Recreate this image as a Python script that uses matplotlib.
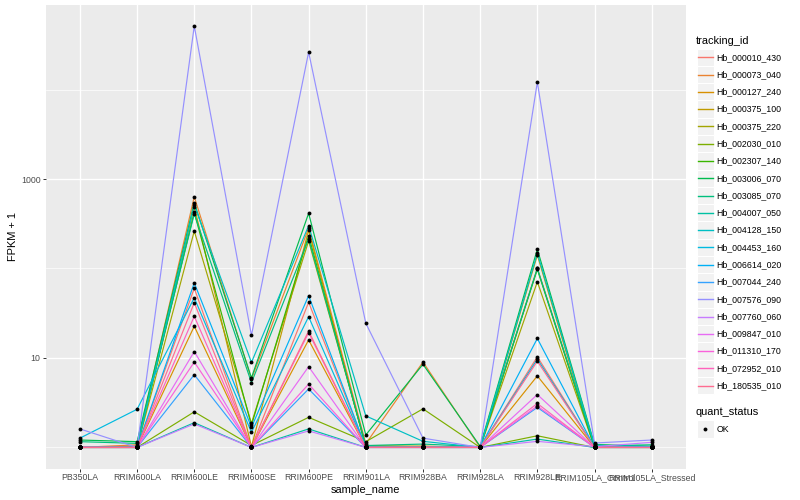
import numpy as np
import matplotlib
matplotlib.use("Agg")
import matplotlib.pyplot as plt
from matplotlib.patches import Rectangle
from matplotlib.lines import Line2D

plt.rcParams['font.family'] = ['Liberation Sans', 'DejaVu Sans']

# sample order on the x axis
samples = ["PB350LA", "RRIM600LA", "RRIM600LE", "RRIM600SE", "RRIM600PE",
           "RRIM901LA", "RRIM928BA", "RRIM928LA", "RRIM928LE",
           "RRIM105LA_Control", "RRIM105LA_Stressed"]

# FPKM + 1 per gene, one value per sample
hb_000010_430 = [1, 1, 60, 1, 41.9, 1, 1, 1, 10.3, 1, 1]
hb_000073_040 = [1, 1.07, 634, 5.8, 282, 1.1, 9.0, 1, 101, 1.02, 1]
hb_000127_240 = [1, 1, 22.6, 1, 15.9, 1, 1, 1, 6.3, 1, 1]
hb_000375_100 = [1, 1, 490, 1.02, 267, 1, 1.03, 1, 141, 1, 1]
hb_000375_220 = [1, 1, 262, 1.86, 203, 1.05, 1.03, 1, 71, 1, 1]
hb_002030_010 = [1, 1, 2.5, 1.05, 2.17, 1.16, 2.7, 1, 1.35, 1, 1]
hb_002307_140 = [1, 1.03, 425, 1.77, 233, 1.02, 1, 1, 98, 1, 1]
hb_003006_070 = [1.21, 1.16, 543, 6.0, 414, 1.38, 8.5, 1.03, 164, 1.08, 1.03]
hb_003085_070 = [1.16, 1.11, 409, 5.3, 214, 1.05, 1.09, 1.02, 100, 1.04, 1.07]
hb_004007_050 = [1, 1, 1.89, 1, 1.61, 1, 1, 1, 1.24, 1, 1]
hb_004128_150 = [1, 1, 512, 8.9, 301, 2.25, 1.17, 1, 148, 1.06, 1.02]
hb_004453_160 = [1.27, 2.67, 47, 1.48, 28.9, 1, 1, 1, 9.7, 1, 1]
hb_006614_020 = [1, 1, 69, 1.68, 49.7, 1, 1, 1, 16.5, 1, 1]
hb_007044_240 = [1, 1, 6.5, 1, 4.5, 1, 1, 1, 2.8, 1, 1]
hb_007576_090 = [1.61, 1, 51200, 17.9, 26200, 24.4, 1.27, 1, 12100, 1.12, 1.21]
hb_007760_060 = [1, 1, 1.83, 1, 1.53, 1, 1, 1, 1.17, 1.02, 1.14]
hb_009847_010 = [1, 1, 11.8, 1, 8.0, 1, 1, 1, 3.9, 1, 1]
hb_011310_170 = [1, 1, 9.0, 1, 5.1, 1, 1, 1, 2.9, 1, 1]
hb_072952_010 = [1, 1, 29.2, 1, 19.2, 1, 1, 1, 3.1, 1, 1]
hb_180535_010 = [1, 1, 41.5, 1, 20, 1, 1, 1, 9.2, 1, 1]

tracking_ids = ["Hb_000010_430", "Hb_000073_040", "Hb_000127_240", "Hb_000375_100",
                "Hb_000375_220", "Hb_002030_010", "Hb_002307_140", "Hb_003006_070",
                "Hb_003085_070", "Hb_004007_050", "Hb_004128_150", "Hb_004453_160",
                "Hb_006614_020", "Hb_007044_240", "Hb_007576_090", "Hb_007760_060",
                "Hb_009847_010", "Hb_011310_170", "Hb_072952_010", "Hb_180535_010"]
series = [hb_000010_430, hb_000073_040, hb_000127_240, hb_000375_100,
          hb_000375_220, hb_002030_010, hb_002307_140, hb_003006_070,
          hb_003085_070, hb_004007_050, hb_004128_150, hb_004453_160,
          hb_006614_020, hb_007044_240, hb_007576_090, hb_007760_060,
          hb_009847_010, hb_011310_170, hb_072952_010, hb_180535_010]

# ggplot hue palette, 20 levels
colors = ["#F8766D", "#EA8331", "#D89000", "#C09B00", "#A3A500", "#7CAE00",
          "#39B600", "#00BB4E", "#00BF7D", "#00C1A3", "#00BFC4", "#00BAE0",
          "#00B0F6", "#35A2FF", "#9590FF", "#C77CFF", "#E76BF3", "#FA62DB",
          "#FF62BC", "#FF6C91"]

W, H = 800, 500
PX = 0.72  # points per pixel at dpi 100

fig = plt.figure(figsize=(8, 5), dpi=100)
left, right, top, bottom = 45.6, 686.0, 5.0, 468.5
ax = fig.add_axes([left / W, 1 - bottom / H, (right - left) / W, (bottom - top) / H])
ax.set_facecolor("#EBEBEB")
for s in ax.spines.values():
    s.set_visible(False)

x = np.arange(len(samples))
for vals, c in zip(series, colors):
    ax.plot(x, vals, color=c, lw=0.85, zorder=3)
for vals in series:
    ax.plot(x, vals, 'o', color='black', ms=2.8, mec='none', zorder=4)

ax.set_yscale('log')
allv = np.concatenate([np.array(v, dtype=float) for v in series])
lo, hi = np.log10(allv.min()), np.log10(allv.max())
pad = 0.05 * (hi - lo)
ax.set_ylim(10 ** (lo - pad), 10 ** (hi + pad))
ax.set_xlim(-0.6, len(samples) - 0.4)

ax.set_yticks([10, 1000])
ax.set_yticklabels(["10", "1000"])
ax.set_yticks([1, 100, 10000], minor=True)
ax.yaxis.set_minor_formatter(matplotlib.ticker.NullFormatter())
ax.set_xticks(x)
ax.set_xticklabels(samples)

ax.grid(which='major', color='white', lw=1.0, zorder=0)
ax.grid(which='minor', axis='y', color='white', lw=0.5, zorder=0)
ax.set_axisbelow(True)
ax.tick_params(which='major', length=2.75 * PX, width=0.7, color='#333333',
               labelsize=8.8 * PX, labelcolor='#4D4D4D', pad=2.2 * PX)
ax.tick_params(which='minor', length=0)

ax.set_xlabel("sample_name", fontsize=11 * PX, color='black')
ax.xaxis.set_label_coords(0.5, -(490 - bottom) / (bottom - top))
ax.xaxis.label.set_va('center')
ax.set_ylabel("FPKM + 1", fontsize=11 * PX, color='black')
ax.yaxis.set_label_coords(-(left - 13) / (right - left), 0.5)
ax.yaxis.label.set_va('center')


def fx(px):
    return px / W


def fy(py):
    return 1 - py / H


# legend: tracking_id
fig.text(fx(696), fy(40.7), "tracking_id", fontsize=11 * PX, va='center', ha='left')
row0, step, key = 57.3, 17.28, 17.28
for i, (tid, c) in enumerate(zip(tracking_ids, colors)):
    cy = row0 + step * i
    fig.add_artist(Rectangle((fx(696.5), fy(cy + key / 2)), key / W, key / H,
                             facecolor="#F2F2F2", edgecolor="white", lw=0.8,
                             transform=fig.transFigure, zorder=1))
    fig.add_artist(Line2D([fx(698.0), fx(712.5)], [fy(cy), fy(cy)], color=c, lw=1.0,
                          transform=fig.transFigure, zorder=2))
    fig.text(fx(716.7), fy(cy), tid, fontsize=8.8 * PX, va='center', ha='left')

# legend: quant_status
fig.text(fx(696), fy(411.7), "quant_status", fontsize=11 * PX, va='center', ha='left')
cy = 429.0
fig.add_artist(Rectangle((fx(696.5), fy(cy + key / 2)), key / W, key / H,
                         facecolor="#F2F2F2", edgecolor="white", lw=0.8,
                         transform=fig.transFigure, zorder=1))
fig.add_artist(Line2D([fx(705.1)], [fy(cy)], marker='o', color='black', ms=2.8,
                      mec='none', transform=fig.transFigure, zorder=2))
fig.text(fx(716.7), fy(cy), "OK", fontsize=8.8 * PX, va='center', ha='left')

fig.savefig("out.png", dpi=100)
